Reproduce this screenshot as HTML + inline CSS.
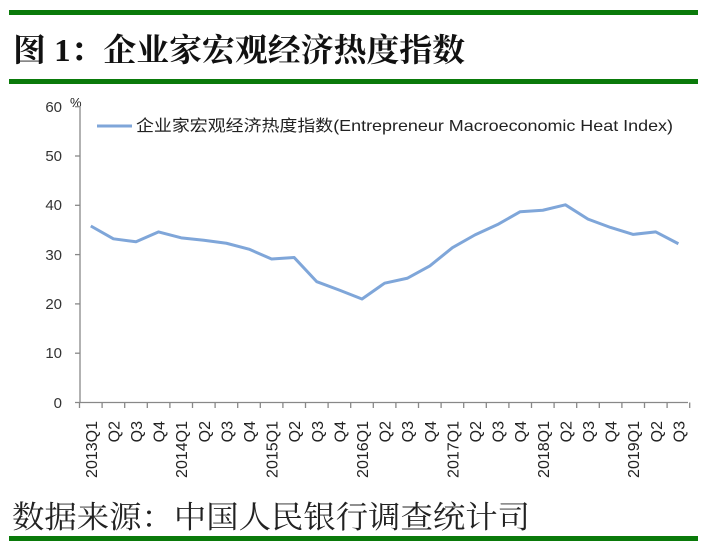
<!DOCTYPE html>
<html><head><meta charset="utf-8"><style>
html,body{margin:0;padding:0;background:#fff;}
body{width:706px;height:549px;overflow:hidden;position:relative;}
</style></head><body>
<svg width="706" height="549" xmlns="http://www.w3.org/2000/svg" style="position:absolute;left:0;top:0">
<rect x="0" y="0" width="706" height="549" fill="#fff"/>
<rect x="9" y="10" width="689" height="5" fill="#0a7a0a"/>
<rect x="9" y="79" width="689" height="5" fill="#0a7a0a"/>
<rect x="9" y="536" width="689" height="5" fill="#0a7a0a"/>
<text x="13" y="61" textLength="452" lengthAdjust="spacingAndGlyphs" font-family="'Liberation Serif','Noto Serif CJK SC',serif" font-size="32" font-weight="bold" fill="#111">图 1：企业家宏观经济热度指数</text>
<text x="12" y="528" textLength="518" lengthAdjust="spacingAndGlyphs" font-family="'Liberation Serif','Noto Serif CJK SC',serif" font-size="31" fill="#222">数据来源：中国人民银行调查统计司</text>
<g font-family="'Liberation Sans',sans-serif" font-size="15" fill="#333" text-anchor="end">
<text x="62" y="112">60</text><text x="62" y="161">50</text><text x="62" y="210">40</text>
<text x="62" y="260">30</text><text x="62" y="309">20</text><text x="62" y="358">10</text><text x="62" y="408">0</text>
</g>
<text x="70" y="107" font-family="'Liberation Sans',sans-serif" font-size="13" fill="#222">%</text>
<g stroke="#888" stroke-width="1.3">
<line x1="80" y1="106" x2="80" y2="403"/>
<line x1="75" y1="106.7" x2="80" y2="106.7"/><line x1="75" y1="156" x2="80" y2="156"/>
<line x1="75" y1="205.3" x2="80" y2="205.3"/><line x1="75" y1="254.6" x2="80" y2="254.6"/>
<line x1="75" y1="303.9" x2="80" y2="303.9"/><line x1="75" y1="353.2" x2="80" y2="353.2"/>
<line x1="75" y1="402.5" x2="688" y2="402.5"/>
</g>
<g id="ticks" stroke="#888" stroke-width="1.3"></g>
<g id="labels" font-family="'Liberation Sans',sans-serif" font-size="16" fill="#222"></g>
<polyline id="ln" fill="none" stroke="#7fa6d9" stroke-width="3" stroke-linejoin="round"/>
<line x1="97" y1="126" x2="132" y2="126" stroke="#7fa6d9" stroke-width="3"/>
<text x="136" y="131" textLength="537" lengthAdjust="spacingAndGlyphs" font-family="'Liberation Sans','Noto Sans CJK SC',sans-serif" font-size="16" fill="#222">企业家宏观经济热度指数(Entrepreneur  Macroeconomic Heat Index)</text>
</svg>
<script>
var d=[35.8,33.2,32.6,34.6,33.4,32.9,32.3,31.1,29.1,29.4,24.5,22.8,21.0,24.2,25.2,27.7,31.4,34.0,36.1,38.7,39.0,40.1,37.2,35.5,34.1,34.6,32.2];
var lab=[];for(var y=2013;y<=2019;y++){lab.push(y+"Q1","Q2","Q3","Q4");}lab=lab.slice(0,27);
var ns="http://www.w3.org/2000/svg",w=22.6,x0=79.5,pts=[];
var tk=document.getElementById("ticks"),lb=document.getElementById("labels");
for(var i=0;i<=27;i++){var l=document.createElementNS(ns,"line");var x=x0+i*w;l.setAttribute("x1",x);l.setAttribute("x2",x);l.setAttribute("y1",402.5);l.setAttribute("y2",408);tk.appendChild(l);}
for(var i=0;i<27;i++){var cx=x0+w*(i+0.5);pts.push(cx+","+(402.5-d[i]*4.93));
var t=document.createElementNS(ns,"text");t.setAttribute("transform","translate("+(cx+6)+",421) rotate(-90)");t.setAttribute("text-anchor","end");t.textContent=lab[i];lb.appendChild(t);}
document.getElementById("ln").setAttribute("points",pts.join(" "));
</script>
</body></html>
